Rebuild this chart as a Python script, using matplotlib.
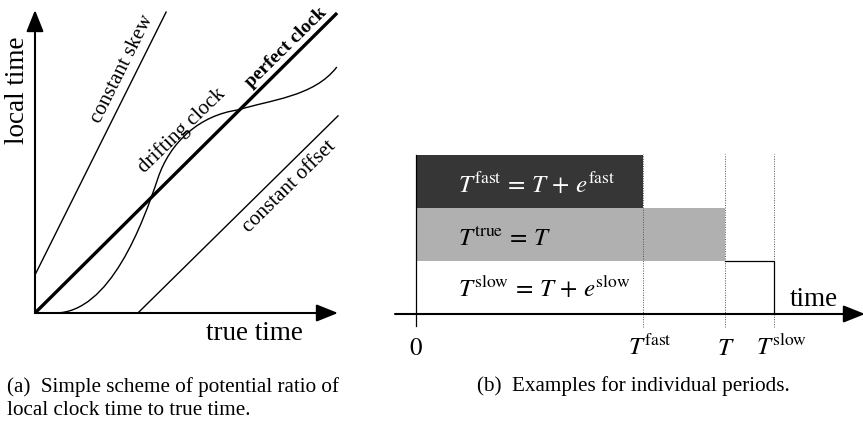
import matplotlib
matplotlib.use("Agg")
import matplotlib.pyplot as plt
from matplotlib.path import Path
from matplotlib.patches import PathPatch

plt.rcParams['font.family'] = ['Liberation Serif', 'DejaVu Serif']
plt.rcParams['mathtext.fontset'] = 'stix'

# ---------------- data (left panel, normalised units) ----------------
perfect_x = [0.0, 1.007]
perfect_y = [0.0, 1.0]
skew_x = [0.0, 0.437]
skew_y = [0.127, 1.003]
offset_x = [0.343, 1.01]
offset_y = [0.0, 0.657]
# drifting clock: cubic Bezier vertices/control points
drift_x = [0.067, 0.25, 0.36, 0.41, 0.45, 0.55, 0.678, 0.78, 0.93, 1.006]
drift_y = [0.0, 0.0, 0.30, 0.45, 0.57, 0.66, 0.677, 0.71, 0.72, 0.82]

curve_labels = ["constant skew", "drifting clock", "perfect clock", "constant offset"]
label_x = [0.29, 0.489, 0.837, 0.847]
label_y = [0.812, 0.608, 0.885, 0.42]
label_rot = [63.5, 44, 44.5, 44.6]
label_weight = ["normal", "normal", "bold", "normal"]
label_size = [15, 15, 14, 15]

# ---------------- data (right panel) ----------------
period_names = ["slow", "true", "fast"]
period_ends = [1.159, 1.0, 0.735]   # T_slow, T, T_fast (T = 1)
period_colors = ["white", "#b0b0b0", "#363636"]
period_texts = [r"$T^{\mathrm{slow}}\,=\,T\,+\,e^{\mathrm{slow}}$",
                r"$T^{\mathrm{true}}\,=\,T$",
                r"$T^{\mathrm{fast}}\,=\,T\,+\,e^{\mathrm{fast}}$"]
period_text_colors = ["black", "black", "white"]
tick_pos = [0.0, 0.735, 1.0, 1.159]
tick_labels = ["$0$", r"$T^{\mathrm{fast}}$", "$T$", r"$T^{\mathrm{slow}}$"]
tick_dx = [0, 7, 1, 7]

W, H = 863, 424
fig = plt.figure(figsize=(W / 100, H / 100), dpi=100)


def px_axes(x0, y0, x1, y1):
    ax = fig.add_axes([x0 / W, 1 - y1 / H, (x1 - x0) / W, (y1 - y0) / H])
    ax.axis("off")
    return ax


# ================= left panel =================
axL = px_axes(0, 0, 360, 350)
axL.set_xlim((0 - 35) / 300, (360 - 35) / 300)
axL.set_ylim((313 - 350) / 300, 313 / 300)

arrow_kw = dict(arrowstyle="-|>,head_length=0.55,head_width=0.22", lw=1.5,
                color="black", mutation_scale=24, shrinkA=0, shrinkB=0)
axL.annotate("", xy=(0, 1.01), xytext=(0, 0), arrowprops=arrow_kw)
axL.annotate("", xy=(1.01, 0), xytext=(0, 0), arrowprops=arrow_kw)

axL.plot(perfect_x, perfect_y, color="black", lw=2.4, solid_capstyle="butt")
axL.plot(skew_x, skew_y, color="black", lw=1.0)
axL.plot(offset_x, offset_y, color="black", lw=1.0)
codes = [Path.MOVETO] + [Path.CURVE4] * (len(drift_x) - 1)
axL.add_patch(PathPatch(Path(list(zip(drift_x, drift_y)), codes),
                        facecolor="none", edgecolor="black", lw=1.0))

for t, x, y, r, w, s in zip(curve_labels, label_x, label_y, label_rot,
                            label_weight, label_size):
    axL.text(x, y, t, rotation=r, rotation_mode="anchor", ha="center",
             va="center", fontsize=s, fontweight=w)

axL.text((18 - 35) / 300, (313 - 90) / 300, "local time", rotation=90,
         ha="center", va="center", fontsize=19.5)
axL.text((254 - 35) / 300, (313 - 333) / 300, "true time",
         ha="center", va="center", fontsize=19.5)

# ================= right panel =================
axR = px_axes(385, 140, 863, 370)
axR.set_xlim((385 - 416) / 309, (863 - 416) / 309)
axR.set_ylim((314 - 370) / 53, (314 - 140) / 53)

for i, (end, col) in enumerate(zip(period_ends, period_colors)):
    axR.barh(i + 0.5, end, left=0, height=1.0, color=col, edgecolor="none", zorder=1)

# outline of slow period
axR.plot([0, 0], [-0.226, 3.0], color="black", lw=0.9, zorder=3)
axR.plot([period_ends[1], period_ends[0], period_ends[0]], [1, 1, 0],
         color="black", lw=0.9, zorder=3)

for x in tick_pos[1:]:
    axR.plot([x, x], [-0.245, 3.02], color="#555555", lw=0.7,
             linestyle=(0, (1, 1.5)), zorder=2)

axR.annotate("", xy=(1.453, 0), xytext=((395 - 416) / 309, 0), annotation_clip=False,
             arrowprops=dict(arrowstyle="-|>,head_length=0.6,head_width=0.24", lw=1.5,
                             color="black", mutation_scale=22, shrinkA=0, shrinkB=0))

text_base = [0.32, 1.302, 2.283]
for t, y, c in zip(period_texts, text_base, period_text_colors):
    axR.text(0.136, y, t, ha="left", va="baseline", fontsize=18, color=c, zorder=4)

axR.text(1.21, 0.15, "time", ha="left", va="baseline", fontsize=19.5)

for x, lab, dx in zip(tick_pos, tick_labels, tick_dx):
    axR.annotate(lab, xy=(x, -0.774), xytext=(dx * 0.72, 0), textcoords="offset points",
                 ha="center", va="baseline", fontsize=18, annotation_clip=False)

# ================= captions =================
fig.text(7 / W, 1 - 392 / H, "(a)  Simple scheme of potential ratio of",
         ha="left", va="baseline", fontsize=15.2)
fig.text(7 / W, 1 - 415 / H, "local clock time to true time.",
         ha="left", va="baseline", fontsize=15.2)
fig.text(477 / W, 1 - 391 / H, "(b)  Examples for individual periods.",
         ha="left", va="baseline", fontsize=15.2)

fig.savefig("out.png", dpi=100)
